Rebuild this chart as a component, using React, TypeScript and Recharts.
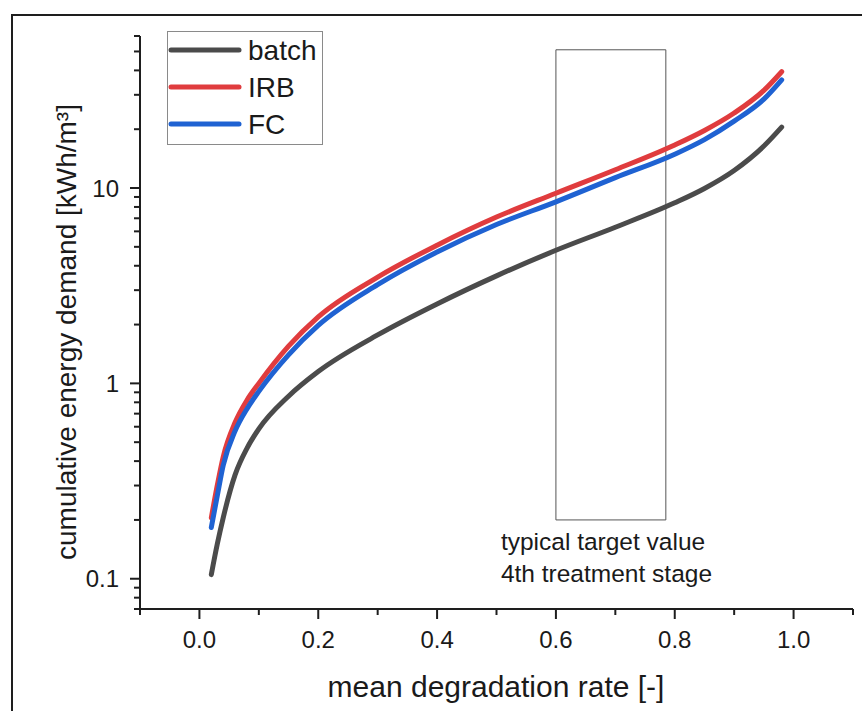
import React from 'react';
import { LineChart, Line, XAxis, YAxis, ReferenceArea, Legend } from 'recharts';

const xValues = [0.02, 0.03, 0.04, 0.06, 0.08, 0.1, 0.15, 0.2, 0.3, 0.4, 0.5, 0.6, 0.7, 0.8, 0.85, 0.9, 0.95, 0.98];
const batch = [0.105, 0.15, 0.205, 0.34, 0.465, 0.585, 0.86, 1.15, 1.77, 2.55, 3.55, 4.8, 6.3, 8.4, 9.95, 12.3, 16.4, 20.5];
const irb = [0.205, 0.3, 0.42, 0.63, 0.82, 1.0, 1.55, 2.19, 3.5, 5.1, 7.1, 9.4, 12.4, 16.6, 19.7, 24.2, 31.6, 39.4];
const fc = [0.183, 0.265, 0.38, 0.57, 0.74, 0.91, 1.4, 1.98, 3.2, 4.7, 6.5, 8.5, 11.3, 14.9, 17.7, 22.0, 28.5, 35.8];

const xTicks = [-0.1, 0, 0.1, 0.2, 0.3, 0.4, 0.5, 0.6, 0.7, 0.8, 0.9, 1.0, 1.1];
const xMajor = [0, 0.2, 0.4, 0.6, 0.8, 1.0];
const yTicks = [0.07, 0.08, 0.09, 0.1, 0.2, 0.3, 0.4, 0.5, 0.6, 0.7, 0.8, 0.9, 1, 2, 3, 4, 5, 6, 7, 8, 9, 10, 20, 30, 40, 50, 60];
const yMajor = [0.1, 1, 10];
const yMajorLabels = ['0.1', '1', '10'];

const seriesNames = ['batch', 'IRB', 'FC'];
const seriesKeys = ['batch', 'irb', 'fc'];
const seriesColors = ['#4b4b4b', '#e03c3e', '#1f62d2'];

const boxX = [0.6, 0.785];
const boxY = [0.2, 51];
const boxText = ['typical target value', '4th treatment stage'];

const xLabel = 'mean degradation rate [-]';
const yLabel = 'cumulative energy demand [kWh/m³]';

const data = xValues.map((x, i) => ({ x, batch: batch[i], irb: irb[i], fc: fc[i] }));

const FONT = '"Liberation Sans", Arial, sans-serif';
const AXIS = '#1e1e1e';

const near = (a: number, b: number) => Math.abs(a - b) < 1e-6;

const XTick = (props: any) => {
  const { x, y, payload } = props;
  const v = payload.value;
  const major = xMajor.some((m) => near(m, v));
  return (
    <g>
      <line x1={x} x2={x} y1={y} y2={y + (major ? 10 : 6)} stroke={AXIS} strokeWidth={2} />
      {major && (
        <text x={x} y={y + 39} textAnchor="middle" fontSize={24} fontFamily={FONT} fill="#1a1a1a">
          {v.toFixed(1)}
        </text>
      )}
    </g>
  );
};

const YTick = (props: any) => {
  const { x, y, payload } = props;
  const v = payload.value;
  const idx = yMajor.findIndex((m) => Math.abs(m - v) / m < 1e-6);
  const major = idx >= 0;
  return (
    <g>
      <line x1={x} x2={x - (major ? 10 : 6)} y1={y} y2={y} stroke={AXIS} strokeWidth={2} />
      {major && (
        <text x={x - 21} y={y} dy="0.36em" textAnchor="end" fontSize={24} fontFamily={FONT} fill="#1a1a1a">
          {yMajorLabels[idx]}
        </text>
      )}
    </g>
  );
};

const YLabelComp = () => (
  <text
    x={0}
    y={0}
    transform="translate(76, 332) rotate(-90)"
    textAnchor="middle"
    fontSize={28}
    fontFamily={FONT}
    fill="#1a1a1a"
  >
    {yLabel}
  </text>
);

const XLabelComp = () => (
  <text x={496} y={697} textAnchor="middle" fontSize={30} fontFamily={FONT} fill="#1a1a1a">
    {xLabel}
  </text>
);

const BoxLabel = (props: any) => {
  const vb = props.viewBox || {};
  return (
    <g>
      {boxText.map((t, i) => (
        <text key={i} x={vb.x - 55} y={vb.y + vb.height + 30 + i * 32} fontSize={24.5} fontFamily={FONT} fill="#1a1a1a">
          {t}
        </text>
      ))}
    </g>
  );
};

const LegendContent = () => (
  <svg width={156} height={114} style={{ display: 'block' }}>
    <rect x={0.5} y={0.5} width={155} height={113} fill="#fff" stroke="#8a8a8a" strokeWidth={1} />
    {seriesNames.map((n, i) => (
      <g key={n}>
        <line x1={4} x2={72} y1={19 + i * 37} y2={19 + i * 37} stroke={seriesColors[i]} strokeWidth={5} strokeLinecap="round" />
        <text x={81} y={19 + i * 37} dy="0.36em" fontSize={28} fontFamily={FONT} fill="#1a1a1a">
          {n}
        </text>
      </g>
    ))}
  </svg>
);

export default function App() {
  return (
    <div style={{ position: 'absolute', left: 0, top: 0, width: 862, height: 711, overflow: 'hidden', background: '#fff' }}>
      <div
        style={{
          position: 'absolute',
          left: 11,
          top: 14,
          width: 900,
          height: 800,
          borderTop: '2px solid #1e1e1e',
          borderLeft: '2px solid #1e1e1e',
          boxSizing: 'border-box',
        }}
      />
      <div style={{ position: 'absolute', left: 0, top: 0 }}>
        <LineChart width={862} height={711} data={data} margin={{ top: 36, right: 9, bottom: 72, left: 80 }}>
          <XAxis
            dataKey="x"
            type="number"
            domain={[-0.1, 1.1]}
            ticks={xTicks}
            interval={0}
            tickLine={false}
            tickSize={0}
            tickMargin={0}
            tick={<XTick />}
            axisLine={{ stroke: AXIS, strokeWidth: 2 }}
            height={30}
            allowDataOverflow
            label={<XLabelComp />}
          />
          <YAxis
            type="number"
            scale="log"
            domain={[0.07, 60]}
            ticks={yTicks}
            interval={0}
            tickLine={false}
            tickSize={0}
            tickMargin={0}
            tick={<YTick />}
            axisLine={{ stroke: AXIS, strokeWidth: 2 }}
            width={60}
            allowDataOverflow
            label={<YLabelComp />}
          />
          <ReferenceArea
            x1={boxX[0]}
            x2={boxX[1]}
            y1={boxY[0]}
            y2={boxY[1]}
            fill="none"
            stroke="#555"
            strokeWidth={1}
            label={<BoxLabel />}
          />
          {seriesKeys.map((k, i) => (
            <Line
              key={k}
              dataKey={k}
              name={seriesNames[i]}
              type="monotone"
              stroke={seriesColors[i]}
              strokeWidth={5}
              strokeLinecap="round"
              dot={false}
              isAnimationActive={false}
            />
          ))}
          <Legend
            layout="horizontal"
            verticalAlign="middle"
            align="center"
            content={<LegendContent />}
            wrapperStyle={{ left: 167, top: 31, width: 156, height: 114 }}
          />
        </LineChart>
      </div>
    </div>
  );
}
